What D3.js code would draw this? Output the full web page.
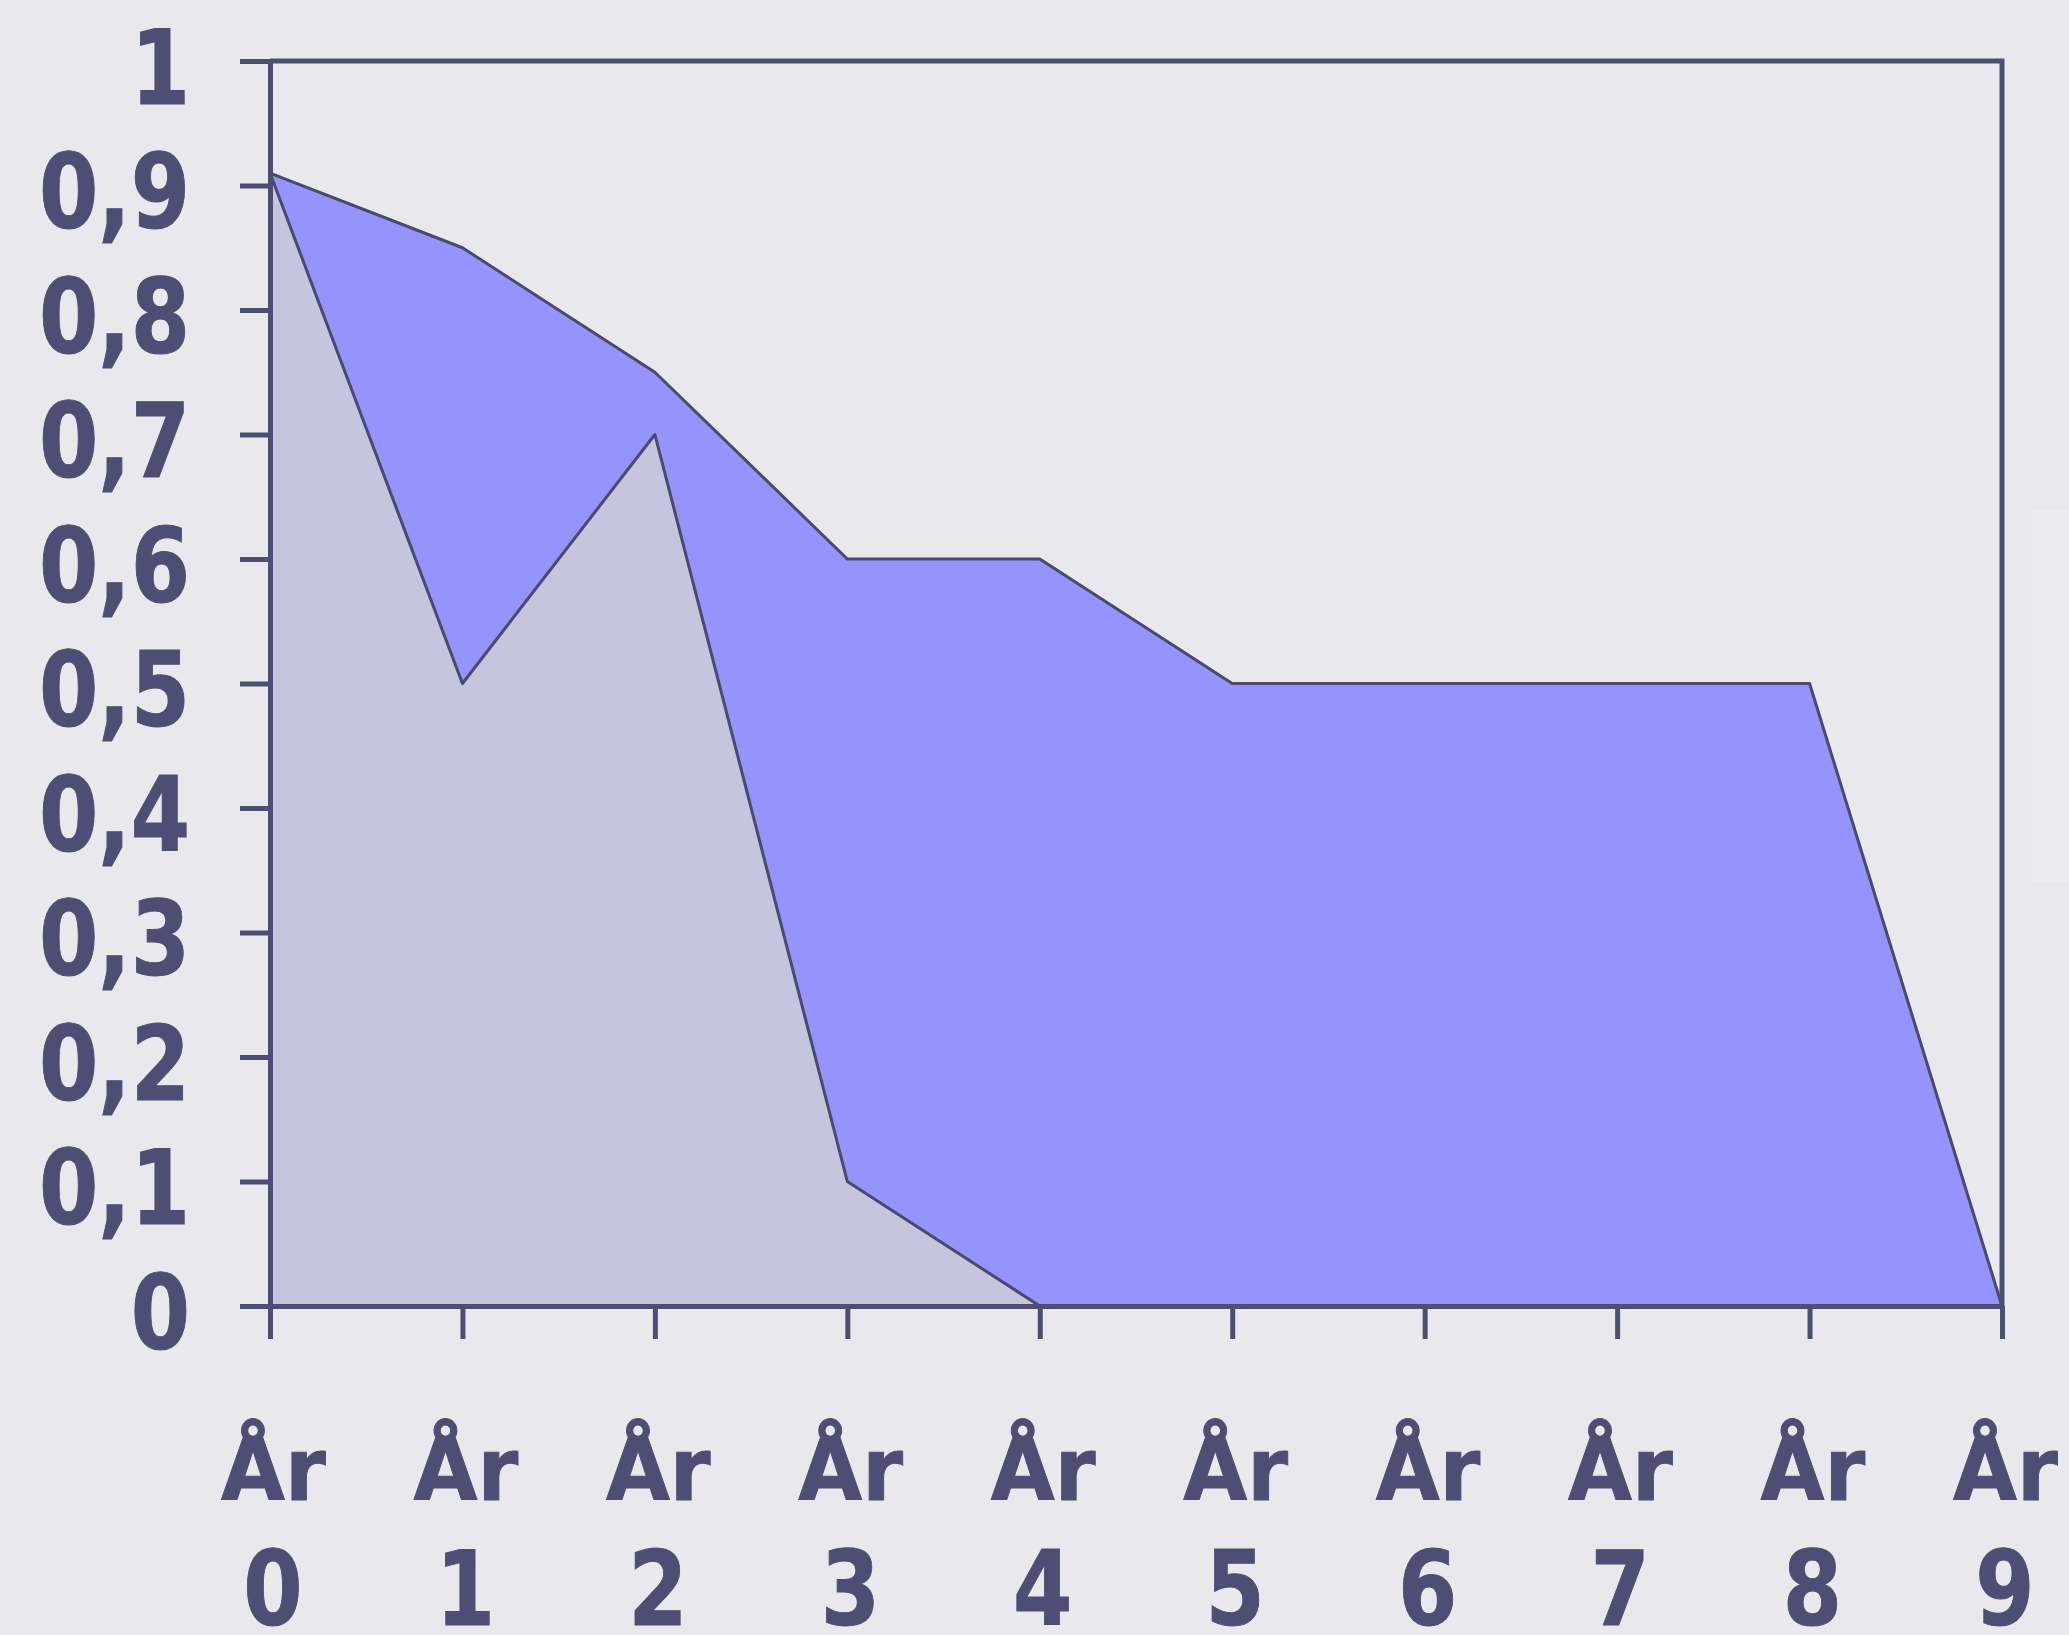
<!DOCTYPE html>
<html>
<head>
<meta charset="utf-8">
<script src="https://cdn.jsdelivr.net/npm/d3@7"></script>
<style>
    html, body {
        margin: 0;
        padding: 0;
        background: #e9e9ed;
    }
    .axis path, .axis line {
        stroke: #4e4e74;
        stroke-width: 5px;
    }
    .tick-label {
        font-family: 'DejaVu Sans', Verdana, sans-serif;
        font-weight: bold;
        fill: #4e4e74;
        stroke: #4e4e74;
        stroke-width: 1px;
    }
</style>
</head>
<body>
<div class="area-chart-container"></div>
<script>
// data
const years = ['0', '1', '2', '3', '4', '5', '6', '7', '8', '9'];
const yearPrefix = 'År';
const blueSeries = [0.91, 0.85, 0.75, 0.6, 0.6, 0.5, 0.5, 0.5, 0.5, 0];
const greySeries = [0.91, 0.5, 0.7, 0.1, 0, 0, 0, 0, 0, 0];
const yTicks = [0, 0.1, 0.2, 0.3, 0.4, 0.5, 0.6, 0.7, 0.8, 0.9, 1];
const yTickLabels = ['0', '0,1', '0,2', '0,3', '0,4', '0,5', '0,6', '0,7', '0,8', '0,9', '1'];

function setupCanvas() {

    const svg_width = 2069;
    const svg_height = 1635;
    const chart_margin = {
        top: 61,
        right: 67,
        bottom: 329,
        left: 270
    };
    const chart_width = svg_width - (chart_margin.left + chart_margin.right);
    const chart_height = svg_height - (chart_margin.top + chart_margin.bottom);
    const root = d3.select('.area-chart-container')
        .append('svg')
        .attr('width', svg_width)
        .attr('height', svg_height)
        .style('display', 'block');

    root.append('rect')
        .attr('width', svg_width)
        .attr('height', svg_height)
        .style('fill', '#e9e9ed');

    // faint box cut off at the right edge (legend remains)
    root.append('rect')
        .attr('x', 2032)
        .attr('y', 510)
        .attr('width', 40)
        .attr('height', 372)
        .style('fill', '#ececf0');

    const this_svg = root.append('g')
        .attr('transform', `translate(${chart_margin.left},${chart_margin.top})`);

    //scale
    const xScale = d3.scalePoint()
        .domain(years)
        .range([0, chart_width]);
    const yScale = d3.scaleLinear([0, 1], [chart_height, 0]);

    const area = d3.area()
        .x((d, i) => xScale(years[i]))
        .y0(yScale(0))
        .y1(d => yScale(d));

    this_svg.append('path')
        .datum(blueSeries)
        .attr('class', 'area blue')
        .attr('d', area)
        .style('fill', '#9494fc')
        .style('stroke', '#4a4a6c')
        .style('stroke-width', 3)
        .style('stroke-linejoin', 'round');

    this_svg.append('path')
        .datum(greySeries)
        .attr('class', 'area grey')
        .attr('d', area)
        .style('fill', '#c5c6de')
        .style('stroke', '#4a4a6c')
        .style('stroke-width', 3)
        .style('stroke-linejoin', 'round');

    //frame: top and right border
    this_svg.append('path')
        .attr('d', `M0,0H${chart_width}V${chart_height}`)
        .style('fill', 'none')
        .style('stroke', '#4e4e74')
        .style('stroke-width', 5);

    const yAxis = d3.axisLeft(yScale)
        .tickValues(yTicks)
        .tickFormat((d, i) => yTickLabels[i])
        .tickSizeInner(30)
        .tickSizeOuter(0);
    const yAxisDraw = this_svg.append('g')
        .attr('class', 'y axis')
        .call(yAxis);
    const squeeze = 0.82;
    yAxisDraw.selectAll('text')
        .attr('class', 'tick-label')
        .attr('x', -80 / squeeze)
        .attr('dy', null)
        .attr('y', 42)
        .attr('transform', `scale(${squeeze},1)`)
        .style('font-size', '104px')
        .style('text-anchor', 'end');

    const xAxis = d3.axisBottom(xScale)
        .tickSizeInner(33)
        .tickSizeOuter(0)
        .tickFormat('');
    const xAxisDraw = this_svg.append('g')
        .attr('class', 'x axis')
        .attr('transform', `translate(0,${chart_height})`)
        .call(xAxis);
    xAxisDraw.selectAll('text').remove();

    const ticks = xAxisDraw.selectAll('.tick');
    ticks.append('text')
        .attr('class', 'tick-label')
        .attr('x', 3)
        .attr('y', 194)
        .attr('transform', 'scale(0.95,1)')
        .style('font-size', '87px')
        .style('text-anchor', 'middle')
        .text(yearPrefix);
    ticks.append('text')
        .attr('class', 'tick-label')
        .attr('x', 3)
        .attr('y', 319)
        .attr('transform', `scale(${squeeze},1)`)
        .style('font-size', '104px')
        .style('text-anchor', 'middle')
        .text(d => d);
}

setupCanvas();
</script>
</body>
</html>
